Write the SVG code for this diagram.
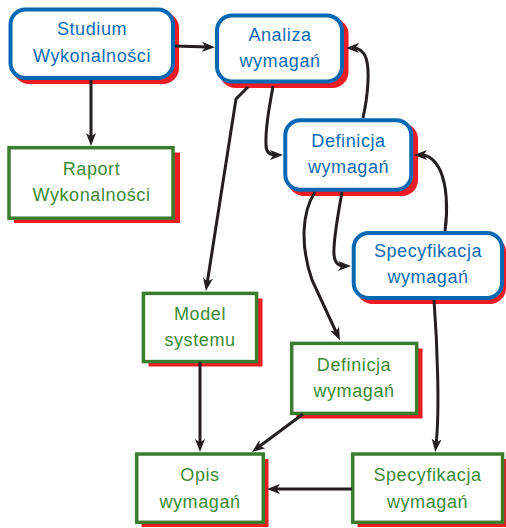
<svg xmlns="http://www.w3.org/2000/svg" width="506" height="528" viewBox="0 0 506 528">
<defs>
<style>
.sh{fill:#ed1c24;stroke:none}
.bn{fill:#fff;stroke:#0568b3;stroke-width:4}
.gn{fill:#fff;stroke:#3b7d2f;stroke-width:3.5}
.bt{fill:#0a6ab6;font-family:"Liberation Sans",Arial,sans-serif;font-size:18px;letter-spacing:0.6px;text-anchor:middle}
.gt{fill:#3c8a34;font-family:"Liberation Sans",Arial,sans-serif;font-size:18px;letter-spacing:0.6px;text-anchor:middle}
.c{fill:none;stroke:#231f20;stroke-width:3;marker-end:url(#ah)}
</style>
<marker id="ah" markerUnits="userSpaceOnUse" markerWidth="14" markerHeight="11" refX="6" refY="5" orient="auto" viewBox="0 0 14 10">
<path d="M0,0 L13,5 L0,10 L3.5,5 Z" fill="#231f20"/>
</marker>
</defs>
<g id="n1">
<rect class="sh" x="13" y="12" width="166" height="72" rx="16"/>
<rect class="bn" x="10.5" y="9.5" width="162.5" height="68.5" rx="15"/>
<text class="bt" x="92" y="35">Studium</text>
<text class="bt" x="92" y="62">Wykonalności</text>
</g>
<g id="n2">
<rect class="sh" x="219.5" y="18" width="129" height="70" rx="16"/>
<rect class="bn" x="217" y="15.5" width="125" height="66" rx="15"/>
<text class="bt" x="280" y="41">Analiza</text>
<text class="bt" x="280" y="67">wymagań</text>
</g>
<g id="n3">
<rect class="sh" x="288" y="123" width="130" height="73" rx="16"/>
<rect class="bn" x="285.3" y="120.3" width="126" height="69.4" rx="15"/>
<text class="bt" x="348.5" y="147">Definicja</text>
<text class="bt" x="348.5" y="173">wymagań</text>
</g>
<g id="n4">
<rect class="sh" x="356.5" y="236" width="149.5" height="68" rx="16"/>
<rect class="bn" x="353.7" y="233" width="148.3" height="65" rx="15"/>
<text class="bt" x="428" y="257">Specyfikacja</text>
<text class="bt" x="428" y="283">wymagań</text>
</g>
<g id="n5">
<rect class="sh" x="14" y="152.5" width="166" height="70.5"/>
<rect class="gn" x="9" y="147.7" width="164" height="70.5"/>
<text class="gt" x="91.5" y="175">Raport</text>
<text class="gt" x="91.5" y="201">Wykonalności</text>
</g>
<g id="n6">
<rect class="sh" x="148.5" y="298.5" width="114" height="68"/>
<rect class="gn" x="143.4" y="293.4" width="113.2" height="68.2"/>
<text class="gt" x="200" y="320">Model</text>
<text class="gt" x="200" y="346">systemu</text>
</g>
<g id="n7">
<rect class="sh" x="296.5" y="348.5" width="126" height="70"/>
<rect class="gn" x="291.7" y="343.4" width="125" height="70"/>
<text class="gt" x="354" y="371">Definicja</text>
<text class="gt" x="354" y="397">wymagań</text>
</g>
<g id="n8">
<rect class="sh" x="141.5" y="459" width="127" height="68"/>
<rect class="gn" x="136.7" y="454" width="126.6" height="68.3"/>
<text class="gt" x="200" y="481">Opis</text>
<text class="gt" x="200" y="508">wymagań</text>
</g>
<g id="n9">
<rect class="sh" x="357.5" y="459" width="150" height="68"/>
<rect class="gn" x="352.7" y="454" width="149.9" height="68.3"/>
<text class="gt" x="427.5" y="481">Specyfikacja</text>
<text class="gt" x="427.5" y="508">wymagań</text>
</g>
<g id="connectors">
<path class="c" d="M175,46 L208,47"/>
<path class="c" d="M91,80 L91,139"/>
<path class="c" d="M248,87 L236,99 L207,284"/>
<path class="c" d="M273,86 C270,105 265,125 266,145 C266,152 270,155 276,155"/>
<path class="c" d="M363,118 C368,95 370,70 366,58 C363,50 358,48 353,48"/>
<path class="c" d="M445,231 C448,210 447,185 440,170 C435,160 428,155 421,155"/>
<path class="c" d="M342,192 C338,215 333,240 334,255 C335,263 338,266 344,266"/>
<path class="c" d="M315,192 C302,212 300,245 312,280 L337,334"/>
<path class="c" d="M200,362 L200,445"/>
<path class="c" d="M303,414 L257.6,447.8"/>
<path class="c" d="M434,300 C437,340 440,410 436,445"/>
<path class="c" d="M352,489 L274,489"/>
</g>
</svg>
